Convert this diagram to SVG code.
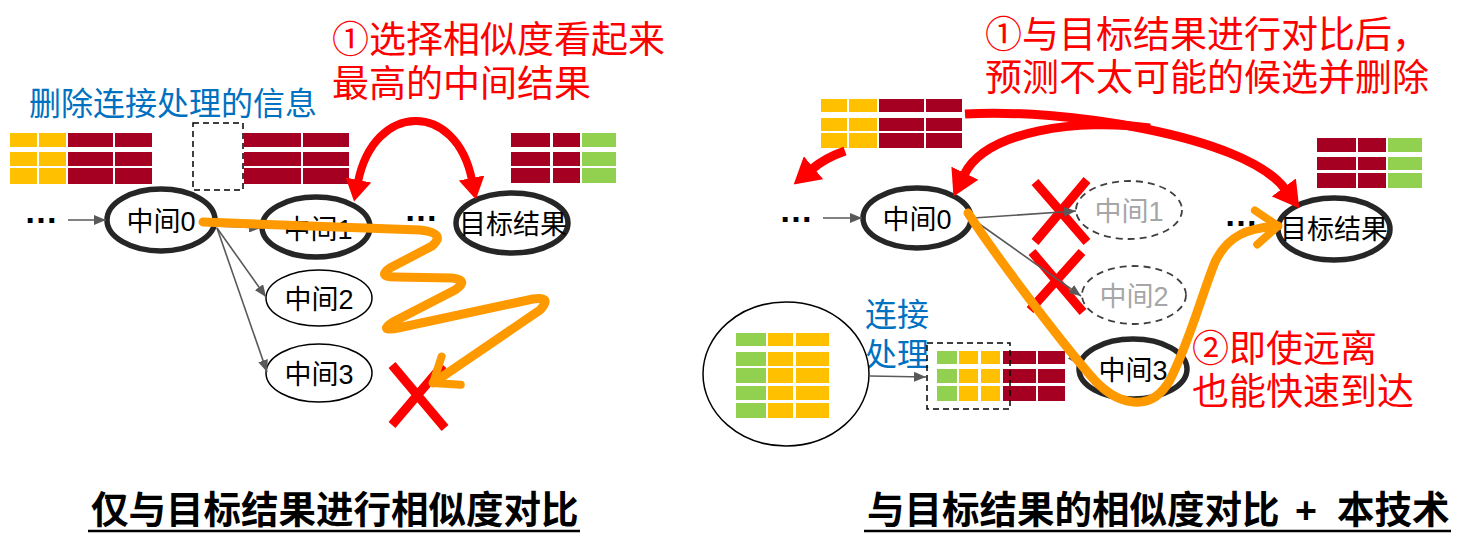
<svg xmlns="http://www.w3.org/2000/svg" width="1473" height="554" viewBox="0 0 1473 554">
<style>
.y{fill:#FFC000}.r{fill:#A50021}.g{fill:#92D050}
.red{font-family:"Noto Sans CJK SC","Noto Sans",sans-serif;font-size:37px;fill:#FF0000}
.blue{font-family:"Noto Sans CJK SC","Noto Sans",sans-serif;font-size:32px;fill:#0070C0}
.lbl{font-family:"Liberation Sans","Noto Sans CJK SC",sans-serif;font-size:27px;fill:#000;text-anchor:middle}
.lblg{font-family:"Liberation Sans","Noto Sans CJK SC",sans-serif;font-size:27px;fill:#A6A6A6;text-anchor:middle}
.dots{font-family:"Liberation Sans",sans-serif;font-size:34px;font-weight:bold;fill:#000}
.title{font-family:"Noto Sans CJK SC","Noto Sans",sans-serif;font-size:37.5px;font-weight:bold;fill:#000}
.thick{fill:#fff;stroke:#262626;stroke-width:5.5}
.thin{fill:#fff;stroke:#000;stroke-width:1.5}
.dash{fill:none;stroke:#404040;stroke-width:1.8;stroke-dasharray:7 5}
.box{fill:none;stroke:#000;stroke-width:1.5;stroke-dasharray:6 4}
.gray{fill:none;stroke:#595959;stroke-width:1.6;marker-end:url(#gh)}
.xm{stroke:#FF0000;stroke-width:9;fill:none}
.or{fill:none;stroke:#FF9900;stroke-width:9;stroke-linejoin:round;stroke-linecap:round;marker-end:url(#oh)}
.rarcL{fill:none;stroke:#FF0000;stroke-width:8;marker-start:url(#rhL);marker-end:url(#rhL)}
.rarc{fill:none;stroke:#FF0000;stroke-width:9;marker-end:url(#rhR)}
</style>
<defs>
<marker id="gh" markerUnits="userSpaceOnUse" viewBox="0 0 12 10" refX="12" refY="5" markerWidth="12" markerHeight="10" orient="auto"><path d="M0,0 L12,5 L0,10 z" fill="#595959"/></marker>
<marker id="rhL" markerUnits="userSpaceOnUse" viewBox="0 0 22 26" refX="2" refY="13" markerWidth="22" markerHeight="26" orient="auto-start-reverse"><path d="M0,0 L22,13 L0,26 z" fill="#FF0000"/></marker>
<marker id="rhR" markerUnits="userSpaceOnUse" viewBox="0 0 26 30" refX="2" refY="15" markerWidth="26" markerHeight="30" orient="auto"><path d="M0,0 L26,15 L0,30 z" fill="#FF0000"/></marker>
<marker id="oh" markerUnits="userSpaceOnUse" viewBox="-30 -22 36 44" refX="0" refY="0" markerWidth="36" markerHeight="44" orient="auto"><path d="M-22,-17 L0,0 L-22,17" fill="none" stroke="#FF9900" stroke-width="8" stroke-linecap="round" stroke-linejoin="round"/></marker>
</defs>
<rect width="1473" height="554" fill="#fff"/>

<!-- LEFT PANEL -->
<text class="blue" x="29" y="115" font-size="33">删除连接处理的信息</text>
<text class="red" x="332" y="53">①选择相似度看起来</text>
<text class="red" x="332" y="97">最高的中间结果</text>

<g id="table-left-1">
<rect class="y" x="10" y="133" width="27" height="14"/><rect class="y" x="39" y="133" width="27" height="14"/><rect class="r" x="68" y="133" width="45" height="14"/><rect class="r" x="115" y="133" width="37" height="14"/>
<rect class="y" x="10" y="152" width="27" height="14"/><rect class="y" x="39" y="152" width="27" height="14"/><rect class="r" x="68" y="152" width="45" height="14"/><rect class="r" x="115" y="152" width="37" height="14"/>
<rect class="y" x="10" y="168" width="27" height="16"/><rect class="y" x="39" y="168" width="27" height="16"/><rect class="r" x="68" y="168" width="45" height="16"/><rect class="r" x="115" y="168" width="37" height="16"/>
</g>
<g id="table-left-2">
<rect class="box" x="193" y="123" width="50" height="67"/>
<rect class="r" x="244" y="133" width="57" height="14"/><rect class="r" x="303" y="133" width="46" height="14"/>
<rect class="r" x="244" y="152" width="57" height="14"/><rect class="r" x="303" y="152" width="46" height="14"/>
<rect class="r" x="244" y="168" width="57" height="16"/><rect class="r" x="303" y="168" width="46" height="16"/>
</g>
<g id="table-left-target">
<rect class="r" x="511" y="133" width="39" height="14"/><rect class="r" x="553" y="133" width="27" height="14"/><rect class="g" x="582" y="133" width="34" height="14"/>
<rect class="r" x="511" y="152" width="39" height="14"/><rect class="r" x="553" y="152" width="27" height="14"/><rect class="g" x="582" y="152" width="34" height="14"/>
<rect class="r" x="511" y="168" width="39" height="15"/><rect class="r" x="553" y="168" width="27" height="15"/><rect class="g" x="582" y="168" width="34" height="15"/>
</g>

<g id="marks-left">
<path class="xm" d="M392,365 L445,428 M443,365 L392,425"/>
</g>

<g id="L-dots1"><text class="dots" x="24" y="223">…</text></g>
<g id="L-n0"><ellipse class="thick" cx="161" cy="220" rx="54" ry="31"/><text class="lbl" x="161" y="231">中间0</text></g>
<g id="L-n1"><ellipse class="thick" cx="316" cy="227" rx="54" ry="30"/><text class="lbl" x="318" y="239">中间1</text></g>
<g id="L-n2"><ellipse class="thin" cx="319" cy="298" rx="53" ry="28"/><text class="lbl" x="319" y="309">中间2</text></g>
<g id="L-n3"><ellipse class="thin" cx="319" cy="373" rx="53" ry="29"/><text class="lbl" x="319" y="384">中间3</text></g>
<g id="L-dots2"><text class="dots" x="404" y="221">…</text></g>
<g id="L-target"><ellipse class="thick" cx="512" cy="223" rx="56" ry="30"/><text class="lbl" x="513" y="234">目标结果</text></g>

<!-- RIGHT PANEL -->
<text class="red" x="985" y="48">①与目标结果进行对比后，</text>
<text class="red" x="985" y="91">预测不太可能的候选并删除</text>
<text class="red" x="1192" y="362">②即使远离</text>
<text class="red" x="1192" y="405">也能快速到达</text>
<text class="blue" x="865" y="326">连接</text>
<text class="blue" x="865" y="366">处理</text>

<g id="table-right-top">
<rect class="y" x="821" y="99" width="26" height="13"/><rect class="y" x="849" y="99" width="28" height="13"/><rect class="r" x="879" y="99" width="45" height="13"/><rect class="r" x="926" y="99" width="36" height="13"/>
<rect class="y" x="821" y="118" width="26" height="13"/><rect class="y" x="849" y="118" width="28" height="13"/><rect class="r" x="879" y="118" width="45" height="13"/><rect class="r" x="926" y="118" width="36" height="13"/>
<rect class="y" x="821" y="133" width="26" height="15"/><rect class="y" x="849" y="133" width="28" height="15"/><rect class="r" x="879" y="133" width="45" height="15"/><rect class="r" x="926" y="133" width="36" height="15"/>
</g>
<g id="table-right-target">
<rect class="r" x="1317" y="138" width="39" height="14"/><rect class="r" x="1358" y="138" width="28" height="14"/><rect class="g" x="1388" y="138" width="34" height="14"/>
<rect class="r" x="1317" y="157" width="39" height="13"/><rect class="r" x="1358" y="157" width="28" height="13"/><rect class="g" x="1388" y="157" width="34" height="13"/>
<rect class="r" x="1317" y="173" width="39" height="15"/><rect class="r" x="1358" y="173" width="28" height="15"/><rect class="g" x="1388" y="173" width="34" height="15"/>
</g>
<g id="source-circle">
<ellipse cx="786" cy="374" rx="83" ry="72" fill="#fff" stroke="#000" stroke-width="1.5"/>
<rect class="g" x="736" y="333" width="30" height="13"/><rect class="y" x="768" y="333" width="25" height="13"/><rect class="y" x="796" y="333" width="33" height="13"/>
<rect class="g" x="736" y="352" width="30" height="14"/><rect class="y" x="768" y="352" width="25" height="14"/><rect class="y" x="796" y="352" width="33" height="14"/>
<rect class="g" x="736" y="368" width="30" height="15"/><rect class="y" x="768" y="368" width="25" height="15"/><rect class="y" x="796" y="368" width="33" height="15"/>
<rect class="g" x="736" y="386" width="30" height="14"/><rect class="y" x="768" y="386" width="25" height="14"/><rect class="y" x="796" y="386" width="33" height="14"/>
<rect class="g" x="736" y="403" width="30" height="15"/><rect class="y" x="768" y="403" width="25" height="15"/><rect class="y" x="796" y="403" width="33" height="15"/>
</g>
<g id="table-joined">
<rect class="g" x="937" y="351" width="20" height="13"/><rect class="y" x="959" y="351" width="19" height="13"/><rect class="y" x="981" y="351" width="19" height="13"/><rect class="r" x="1003" y="351" width="33" height="13"/><rect class="r" x="1038" y="351" width="27" height="13"/>
<rect class="g" x="937" y="369" width="20" height="14"/><rect class="y" x="959" y="369" width="19" height="14"/><rect class="y" x="981" y="369" width="19" height="14"/><rect class="r" x="1003" y="369" width="33" height="14"/><rect class="r" x="1038" y="369" width="27" height="14"/>
<rect class="g" x="937" y="386" width="20" height="15"/><rect class="y" x="959" y="386" width="19" height="15"/><rect class="y" x="981" y="386" width="19" height="15"/><rect class="r" x="1003" y="386" width="33" height="15"/><rect class="r" x="1038" y="386" width="27" height="15"/>
<rect class="box" x="927" y="343" width="83" height="66"/>
</g>

<g id="marks-right">
<path class="xm" d="M1035,182 L1087,242 M1087,180 L1035,242"/>
<path class="xm" d="M1032,252 L1083,312 M1082,252 L1030,310"/>
</g>

<g id="R-dots1"><text class="dots" x="779" y="222">…</text></g>
<g id="R-n0"><ellipse class="thick" cx="917" cy="218" rx="54" ry="30"/><text class="lbl" x="917" y="229">中间0</text></g>
<g id="R-n1"><ellipse class="dash" cx="1129" cy="210" rx="53" ry="29"/><text class="lblg" x="1129" y="221">中间1</text></g>
<g id="R-n2"><ellipse class="dash" cx="1134" cy="295" rx="52" ry="29"/><text class="lblg" x="1134" y="306">中间2</text></g>
<g id="R-n3"><ellipse class="thick" cx="1133" cy="369" rx="54" ry="30"/><text class="lbl" x="1133" y="380">中间3</text></g>
<g id="R-dots2"><text class="dots" x="1224" y="226">…</text></g>
<g id="R-target"><ellipse class="thick" cx="1334" cy="229" rx="56" ry="31"/><text class="lbl" x="1334" y="239">目标结果</text></g>

<g id="connectors">
<line class="gray" x1="68" y1="220" x2="106" y2="220"/>
<line class="gray" x1="215" y1="226" x2="261" y2="228"/>
<line class="gray" x1="217" y1="228" x2="266" y2="297"/>
<line class="gray" x1="217" y1="228" x2="267" y2="372"/>
<line class="gray" x1="823" y1="218" x2="862" y2="218"/>
<line class="gray" x1="973" y1="218" x2="1076" y2="211"/>
<line class="gray" x1="978" y1="223" x2="1081" y2="296"/>
<line class="gray" x1="975" y1="228" x2="1079" y2="365"/>
<line class="gray" x1="870" y1="376" x2="926" y2="377"/>
<path class="or" d="M203,222 L420,230 Q447,233 432,246 L390,268 Q377,277 395,277 L452,278 Q470,280 455,290 L393,322 Q378,332 398,328 L533,299 Q553,296 540,310 L433,383"/>
<path class="or" d="M968,213 C1000,262 1060,340 1090,375 C1115,405 1150,415 1170,380 C1190,340 1200,300 1215,262 C1228,235 1248,228 1278,226"/>
<path class="rarcL" d="M358,182 C374,102 456,100 472,180"/>
<path class="rarc" d="M965,114 C1060,108 1245,135 1285,189"/>
<path class="rarc" d="M1150,128 C1080,118 986,130 964,175"/>
<path class="rarc" d="M845,151 Q825,158 812,169"/>
</g>

<!-- captions -->
<text class="title" x="91" y="523">仅与目标结果进行相似度对比</text>
<line x1="88" y1="531" x2="580" y2="531" stroke="#000" stroke-width="2.5"/>
<text class="title" y="523"><tspan x="867">与目标结果的相似度对比</tspan><tspan x="1306" text-anchor="middle" font-family="Liberation Sans, sans-serif">+</tspan><tspan x="1337">本技术</tspan></text>
<line x1="864" y1="531" x2="1451" y2="531" stroke="#000" stroke-width="2.5"/>
</svg>
